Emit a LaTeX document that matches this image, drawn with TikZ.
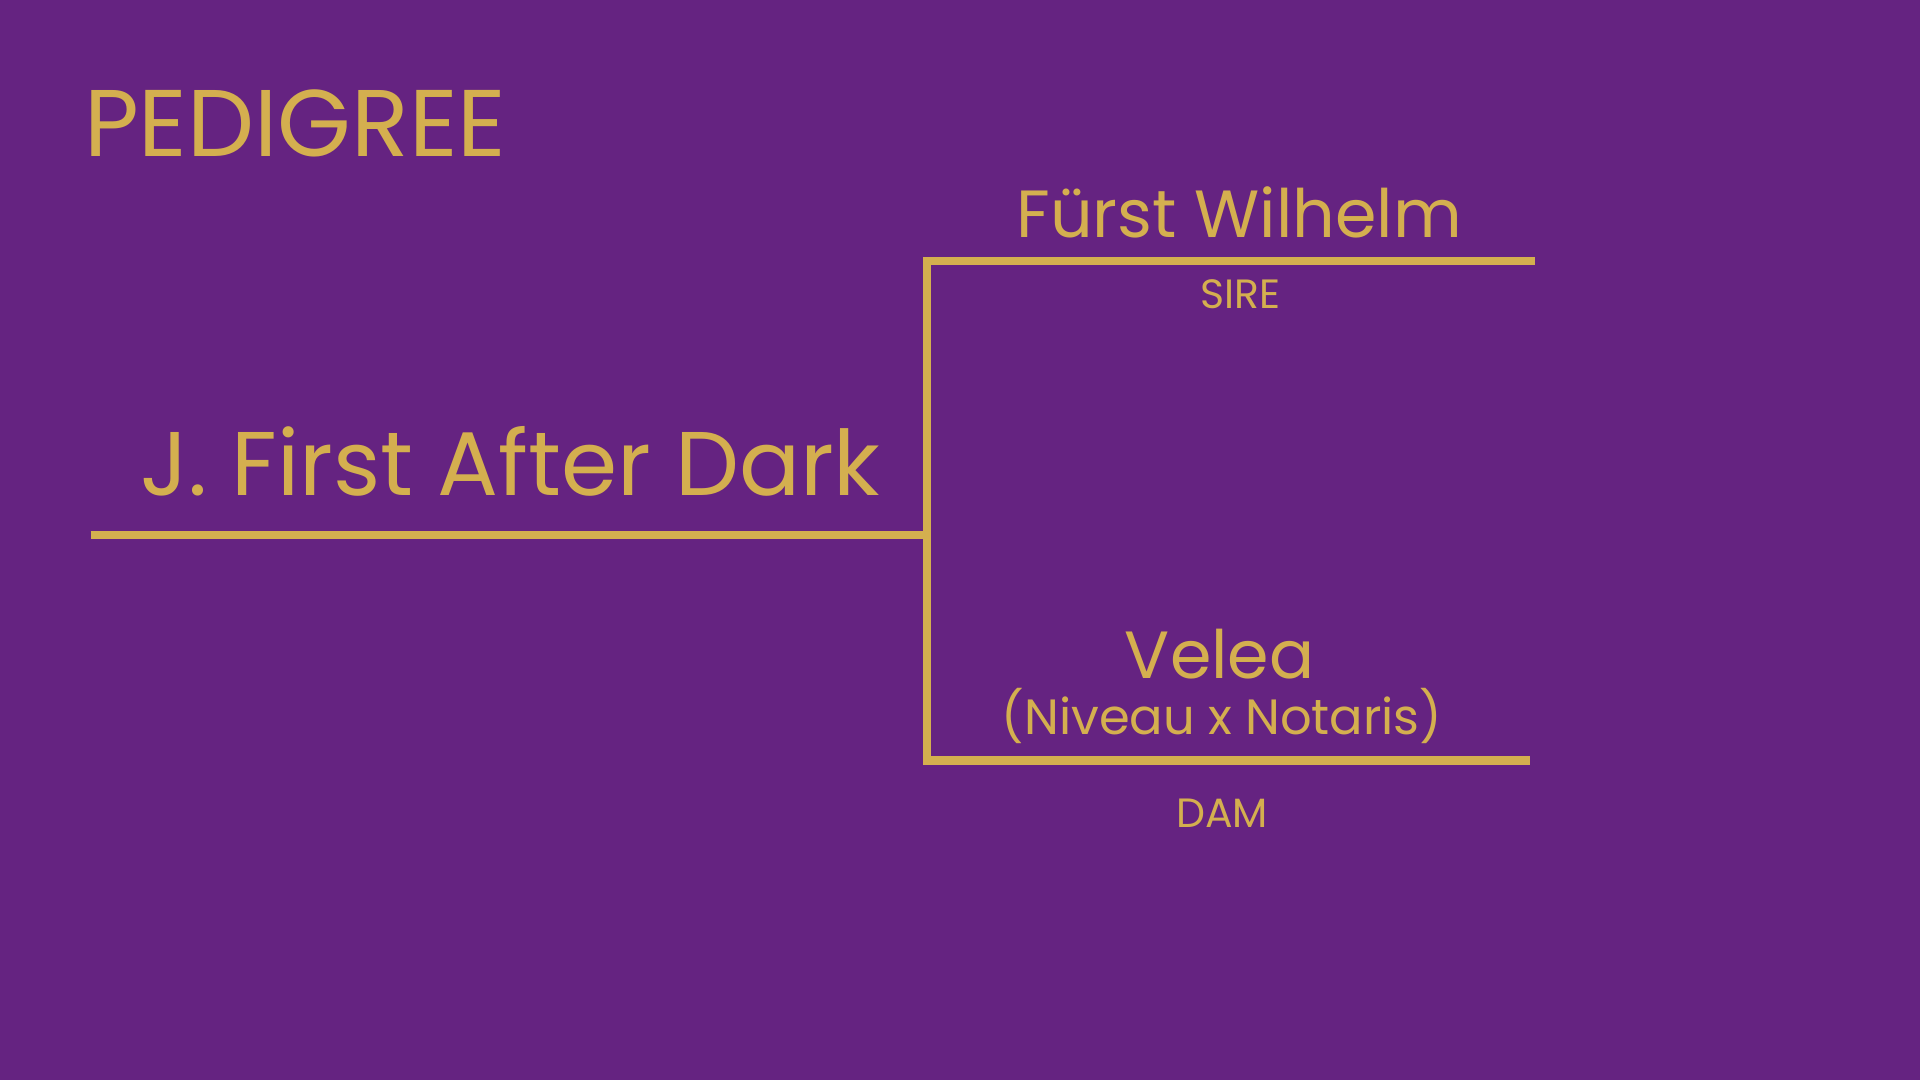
\documentclass[tikz,border=0pt]{standalone}
\usepackage{fontspec}
\setmainfont{Poppins}
\definecolor{bg}{HTML}{652381}
\definecolor{gold}{HTML}{D4AF4F}
\begin{document}
\begin{tikzpicture}[x=0.01cm,y=-0.01cm,
  ln/.style={draw=gold,line width=2pt},
  txt/.style={text=gold,anchor=base,inner sep=0pt}]
\fill[bg] (0,0) rectangle (1568,882);
\useasboundingbox (0,0) rectangle (1568,882);
\coordinate (a) at (74,437);
\coordinate (j) at (757,437);
\coordinate (t) at (757,213);
\coordinate (te) at (1250,213);
\coordinate (b) at (757,621);
\coordinate (be) at (1246,621);
\draw[ln] (a) -- (j);
\draw[ln,line cap=rect] (te) -- (t) -- (b) -- (be);
\node[txt,anchor=base west,font=\fontsize{22}{26}\selectfont] (title) at (68,128) {PEDIGREE};
\node[txt,font=\fontsize{21}{25}\selectfont] (main) at (417,405) {J. First After Dark};
\node[txt,font=\fontsize{15.5}{19}\selectfont] (sire) at (1012,194) {Fürst Wilhelm};
\node[txt,font=\fontsize{9.5}{12}\selectfont] (sl) at (1013,252) {SIRE};
\node[txt,font=\fontsize{15.5}{19}\selectfont] (dam) at (996,554) {Velea};
\node[txt,font=\fontsize{11.5}{14}\selectfont] (dp) at (998,600) {(Niveau x Notaris)};
\node[txt,font=\fontsize{9.5}{12}\selectfont] (dl) at (998,676) {DAM};
\end{tikzpicture}
\end{document}
